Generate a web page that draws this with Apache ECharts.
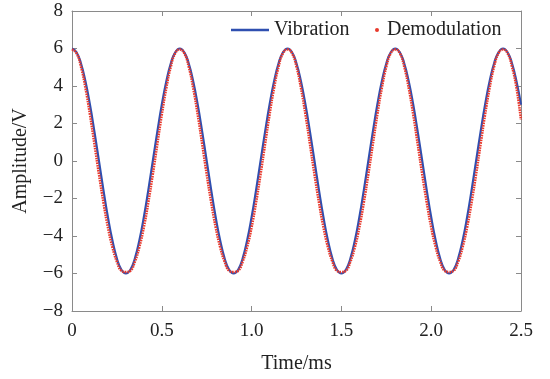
<!DOCTYPE html>
<html>
<head>
<meta charset="utf-8">
<script src="https://cdn.jsdelivr.net/npm/echarts@6/dist/echarts.min.js"></script>
<style>html,body{margin:0;padding:0;background:#fff}#c{width:550px;height:379px}</style>
</head>
<body>
<div id="c"></div>
<script>
var timeMs = [0,0.025,0.05,0.075,0.1,0.125,0.15,0.175,0.2,0.225,0.25,0.275,0.3,0.325,0.35,0.375,0.4,0.425,0.45,0.475,
0.5,0.525,0.55,0.575,0.6,0.625,0.65,0.675,0.7,0.725,0.75,0.775,0.8,0.825,0.85,0.875,0.9,0.925,0.95,0.975,
1.0,1.025,1.05,1.075,1.1,1.125,1.15,1.175,1.2,1.225,1.25,1.275,1.3,1.325,1.35,1.375,1.4,1.425,1.45,1.475,
1.5,1.525,1.55,1.575,1.6,1.625,1.65,1.675,1.7,1.725,1.75,1.775,1.8,1.825,1.85,1.875,1.9,1.925,1.95,1.975,
2.0,2.025,2.05,2.075,2.1,2.125,2.15,2.175,2.2,2.225,2.25,2.275,2.3,2.325,2.35,2.375,2.4,2.425,2.45,2.475,2.5];

var vibration = [
6.00,5.80,5.20,4.24,3.00,1.55,0.00,-1.55,-3.00,-4.24,-5.20,-5.80,-6.00,-5.80,-5.20,-4.24,-3.00,-1.55,0.00,1.55,3.00,4.24,5.20,5.80,
6.00,5.80,5.20,4.24,3.00,1.55,0.00,-1.55,-3.00,-4.24,-5.20,-5.80,-6.00,-5.80,-5.20,-4.24,-3.00,-1.55,0.00,1.55,3.00,4.24,5.20,5.80,
6.00,5.80,5.20,4.24,3.00,1.55,0.00,-1.55,-3.00,-4.24,-5.20,-5.80,-6.00,-5.80,-5.20,-4.24,-3.00,-1.55,0.00,1.55,3.00,4.24,5.20,5.80,
6.00,5.80,5.20,4.24,3.00,1.55,0.00,-1.55,-3.00,-4.24,-5.20,-5.80,-6.00,-5.80,-5.20,-4.24,-3.00,-1.55,0.00,1.55,3.00,4.24,5.20,5.80,
6.00,5.80,5.20,4.24,3.00];

var demodulation = [
5.95,5.75,5.03,3.89,2.48,0.90,-0.70,-2.20,-3.53,-4.59,-5.37,-5.85,-5.92,-5.85,-5.37,-4.59,-3.53,-2.20,-0.70,0.90,2.48,3.89,5.03,5.75,
5.95,5.75,5.03,3.89,2.48,0.90,-0.70,-2.20,-3.53,-4.59,-5.37,-5.85,-5.92,-5.85,-5.37,-4.59,-3.53,-2.20,-0.70,0.90,2.48,3.89,5.03,5.75,
5.95,5.75,5.03,3.89,2.48,0.90,-0.70,-2.20,-3.53,-4.59,-5.37,-5.85,-5.92,-5.85,-5.37,-4.59,-3.53,-2.20,-0.70,0.90,2.48,3.89,5.03,5.75,
5.95,5.75,5.03,3.89,2.48,0.90,-0.70,-2.20,-3.53,-4.59,-5.37,-5.85,-5.92,-5.85,-5.37,-4.59,-3.53,-2.20,-0.70,0.90,2.48,3.89,5.03,5.75,
5.95,5.75,5.03,3.89,2.20];

var xTicks = [0, 0.5, 1.0, 1.5, 2.0, 2.5];
var yTicks = [-8, -6, -4, -2, 0, 2, 4, 6, 8];
var seriesNames = ['Vibration', 'Demodulation'];
var xName = 'Time/ms';
var yName = 'Amplitude/V';

function pairs(xs, ys) { return xs.map(function (x, i) { return [x, ys[i]]; }); }

var FONT = '"Liberation Serif", "Times New Roman", serif';
var AX = '#8a8a8a';
var TXT = '#222';

var chart = echarts.init(document.getElementById('c'), null, {renderer: 'canvas'});
var baseX = {
  type: 'value', min: xTicks[0], max: xTicks[xTicks.length - 1], interval: 0.5,
  axisLine: {show: true, onZero: false, lineStyle: {color: AX, width: 1}},
  axisTick: {show: true, inside: true, length: 5, lineStyle: {color: AX}},
  splitLine: {show: false}
};
var baseY = {
  type: 'value', min: yTicks[0], max: yTicks[yTicks.length - 1], interval: 2,
  axisLine: {show: true, onZero: false, lineStyle: {color: AX, width: 1}},
  axisTick: {show: true, inside: true, length: 5, lineStyle: {color: AX}},
  splitLine: {show: false}
};
chart.setOption({
  animation: false,
  backgroundColor: '#fff',
  grid: {left: 72, right: 29, top: 11, bottom: 63, containLabel: false},
  legend: [{
    data: [{name: seriesNames[0], icon: 'rect'}],
    left: 226, top: 15, itemWidth: 38, itemHeight: 2.5,
    textStyle: {fontFamily: FONT, fontSize: 20, color: TXT}
  }, {
    data: [{name: seriesNames[1], icon: 'circle'}],
    left: 370, top: 15, itemWidth: 4, itemHeight: 4,
    textStyle: {fontFamily: FONT, fontSize: 20, color: TXT, padding: [0, 0, 0, 3]}
  }],
  xAxis: [
    Object.assign({}, baseX, {
      position: 'bottom',
      name: xName, nameLocation: 'middle', nameGap: 43,
      nameTextStyle: {fontFamily: FONT, fontSize: 20, color: TXT},
      axisLabel: {show: true, margin: 11, fontFamily: FONT, fontSize: 19, color: TXT,
        formatter: function (v) { return v === 0 ? '0' : v.toFixed(1); }}
    }),
    Object.assign({}, baseX, {position: 'top', axisLabel: {show: false}})
  ],
  yAxis: [
    Object.assign({}, baseY, {
      position: 'left',
      name: yName, nameLocation: 'middle', nameGap: 41, nameRotate: 90,
      nameTextStyle: {fontFamily: FONT, fontSize: 20, color: TXT},
      axisLabel: {show: true, margin: 9, fontFamily: FONT, fontSize: 19, color: TXT,
        formatter: function (v) { return v < 0 ? '\u2212' + Math.abs(v) : String(v); }}
    }),
    Object.assign({}, baseY, {position: 'right', axisLabel: {show: false}})
  ],
  series: [{
    name: seriesNames[0], type: 'line', xAxisIndex: 0, yAxisIndex: 0,
    data: pairs(timeMs, vibration), smooth: 0.5, showSymbol: false, symbol: 'none',
    lineStyle: {color: '#2f4fb0', width: 2.2}, itemStyle: {color: '#2f4fb0'}, z: 2
  }, {
    name: seriesNames[1], type: 'line', xAxisIndex: 0, yAxisIndex: 0,
    data: pairs(timeMs, demodulation), smooth: 0.5, showSymbol: false, symbol: 'none',
    lineStyle: {color: '#e8392c', width: 2.6, type: [1.6, 0.9]}, itemStyle: {color: '#e8392c'}, z: 3
  }]
});
</script>
</body>
</html>
